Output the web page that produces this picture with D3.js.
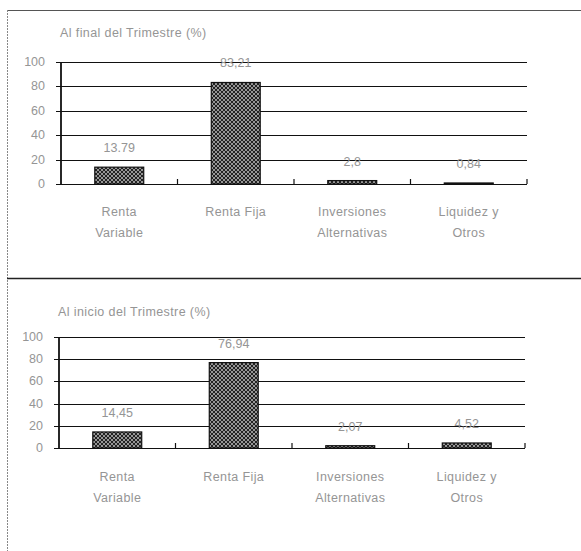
<!DOCTYPE html>
<html><head><meta charset="utf-8">
<script src="https://cdn.jsdelivr.net/npm/d3@7"></script>
<style>
html,body{margin:0;padding:0;background:#fff;}
svg text{font-family:"Liberation Sans",Arial,sans-serif;fill:#959595;}
</style></head>
<body><svg id="c" width="581" height="551"></svg>
<script>
const categories = [["Renta","Variable"],["Renta Fija"],["Inversiones","Alternativas"],["Liquidez y","Otros"]];
const titles = ["Al final del Trimestre (%)", "Al inicio del Trimestre (%)"];
const valuesEnd = [13.79, 83.21, 2.8, 0.84];
const labelsEnd = ["13.79", "83,21", "2,8", "0,84"];
const valuesStart = [14.45, 76.94, 2.07, 4.52];
const labelsStart = ["14,45", "76,94", "2,07", "4,52"];
const yTicks = [0, 20, 40, 60, 80, 100];

const svg = d3.select("#c");
const defs = svg.append("defs");
const pat = defs.append("pattern").attr("id","hatch").attr("patternUnits","userSpaceOnUse")
  .attr("width",4).attr("height",4);
pat.append("rect").attr("width",4).attr("height",4).attr("fill","#222");
pat.append("path").attr("d","M0,0L4,4M4,0L0,4").attr("stroke","#c8c8c8").attr("stroke-width",0.7);

// frame lines
svg.append("line").attr("x1",7).attr("x2",581).attr("y1",10.5).attr("y2",10.5).attr("stroke","#555").attr("stroke-width",1);
svg.append("line").attr("x1",7.5).attr("x2",7.5).attr("y1",10).attr("y2",551).attr("stroke","#888").attr("stroke-width",1).attr("stroke-dasharray","2,1");
svg.append("line").attr("x1",7).attr("x2",581).attr("y1",278.5).attr("y2",278.5).attr("stroke","#222").attr("stroke-width",1.5);

function panel(cfg){
  const g = svg.append("g");
  const x = d3.scaleBand().domain(d3.range(categories.length)).range([cfg.x0, cfg.x1]).padding(0);
  const y = d3.scaleLinear().domain([0,100]).range([cfg.y0, cfg.y100]);
  g.append("text").attr("x",cfg.titleX).attr("y",cfg.titleY).attr("font-size",12.5)
   .attr("letter-spacing",0.4).text(cfg.title);
  // gridlines
  g.selectAll(".grid").data(yTicks).enter().append("line")
   .attr("x1",cfg.x0-5).attr("x2",cfg.x1).attr("y1",d=>Math.round(y(d))+0.5).attr("y2",d=>Math.round(y(d))+0.5)
   .attr("stroke","#111").attr("stroke-width",1.2);
  // y tick labels
  g.selectAll(".yl").data(yTicks).enter().append("text")
   .attr("x",cfg.x0-16).attr("y",d=>y(d)+4).attr("text-anchor","end").attr("font-size",12.5)
   .text(d=>d);
  // y axis
  g.append("line").attr("x1",cfg.x0).attr("x2",cfg.x0).attr("y1",y(100)).attr("y2",y(0)).attr("stroke","#111").attr("stroke-width",1.8);
  // x ticks
  const bounds = d3.range(categories.length+1).map(i=> i<categories.length ? x(i) : cfg.x1);
  g.selectAll(".xt").data(bounds.slice(1)).enter().append("line")
   .attr("x1",d=>d).attr("x2",d=>d).attr("y1",y(0)).attr("y2",y(0)-5).attr("stroke","#111").attr("stroke-width",1.2);
  const bw = x.bandwidth()*0.42;
  // bars
  g.selectAll(".bar").data(cfg.values).enter().append("rect")
   .attr("x",(d,i)=>x(i)+x.bandwidth()/2-bw/2).attr("width",bw)
   .attr("y",d=>y(d)).attr("height",d=>y(0)-y(d))
   .attr("fill","url(#hatch)").attr("stroke","#111").attr("stroke-width",1.2);
  // value labels
  g.selectAll(".vl").data(cfg.values).enter().append("text")
   .attr("x",(d,i)=>x(i)+x.bandwidth()/2).attr("y",d=>y(d)-15).attr("text-anchor","middle")
   .attr("font-size",12.5).text((d,i)=>cfg.labels[i]);
  // category labels
  categories.forEach((lines,i)=>{
    lines.forEach((t,j)=>{
      g.append("text").attr("x",x(i)+x.bandwidth()/2).attr("y",cfg.catY+j*21).attr("text-anchor","middle")
       .attr("font-size",12.5).attr("letter-spacing",0.4).text(t);
    });
  });
}

panel({title:titles[0], titleX:60, titleY:37, x0:61, x1:527, y0:184, y100:62, values:valuesEnd, labels:labelsEnd, catY:216});
panel({title:titles[1], titleX:58, titleY:316, x0:59, x1:525, y0:448, y100:337, values:valuesStart, labels:labelsStart, catY:481});
</script></body></html>
